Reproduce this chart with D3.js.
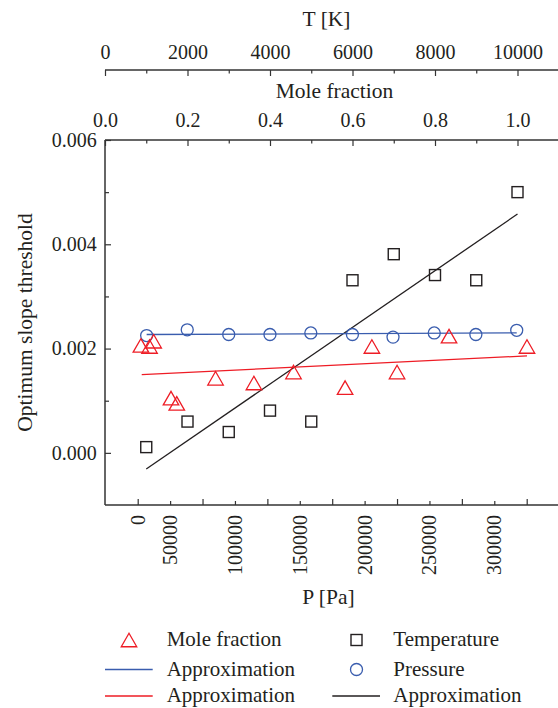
<!DOCTYPE html>
<html>
<head>
<meta charset="utf-8">
<script src="https://cdn.jsdelivr.net/npm/d3@7"></script>
<style>
  body { margin: 0; background: #fff; }
  svg { display: block; font-family: "Liberation Serif", "Times New Roman", serif; }
</style>
</head>
<body>
<svg id="chart" width="558" height="708"></svg>
<script>
// ---- Mole fraction series (top inner axis) ----
const moleFraction  = [0.087, 0.108, 0.118, 0.160, 0.174, 0.268, 0.361, 0.457, 0.582, 0.647, 0.708, 0.834, 1.023];
const moleThreshold = [0.00206, 0.00204, 0.00214, 0.00105, 0.00095, 0.00143, 0.00134, 0.00155, 0.00125, 0.00204, 0.00155, 0.00224, 0.00204];
const moleFitX = [0.089, 1.023];
const moleFitY = [0.00150, 0.00186];

// ---- Temperature series (top outer axis) ----
const temperature   = [1000, 2000, 3000, 4000, 5000, 6000, 7000, 8000, 9000, 10000];
const tempThreshold = [0.00011, 0.00060, 0.00040, 0.00081, 0.00060, 0.00331, 0.00381, 0.00341, 0.00331, 0.00500];
const tempFitX = [1000, 10000];
const tempFitY = [-0.00031, 0.00458];

// ---- Pressure series (bottom axis) ----
const pressure          = [6900, 38200, 70200, 102000, 133500, 165600, 196900, 228700, 260800, 292300];
const pressureThreshold = [0.00225, 0.00236, 0.00227, 0.00227, 0.00230, 0.00227, 0.00222, 0.00230, 0.00227, 0.00235];
const pressureFitX = [6900, 292300];
const pressureFitY = [0.00227, 0.00230];

// ---- Tick values ----
const moleTicks      = [0, 0.2, 0.4, 0.6, 0.8, 1.0];
const tempTicks      = [0, 2000, 4000, 6000, 8000, 10000];
const pressureTicks  = [0, 50000, 100000, 150000, 200000, 250000, 300000];
const thresholdTicks = [0, 0.002, 0.004, 0.006];

// ---- Legend entries ----
const legendItems = [
  { label: "Mole fraction", kind: "triangle", color: "#ee1c25", col: 0, row: 0 },
  { label: "Approximation", kind: "line",     color: "#3a5dae", col: 0, row: 1 },
  { label: "Approximation", kind: "line",     color: "#ee1c25", col: 0, row: 2 },
  { label: "Temperature",   kind: "square",   color: "#231f20", col: 1, row: 0 },
  { label: "Pressure",      kind: "circle",   color: "#3a5dae", col: 1, row: 1 },
  { label: "Approximation", kind: "line",     color: "#231f20", col: 1, row: 2 }
];

const RED = "#ee1c25", BLUE = "#3a5dae", BLACK = "#231f20", AXIS = "#333";

const svg = d3.select("#chart");
const frame = { left: 105, right: 562, top: 140, bottom: 505, tempAxisY: 70 };

const xMole = d3.scaleLinear().domain([0, 1]).range([frame.left, 517.5]);
const xTemp = d3.scaleLinear().domain([0, 10000]).range([frame.left, 517.5]);
const xP    = d3.scaleLinear().domain([0, 300000]).range([137.7, 526.7]);
const y     = d3.scaleLinear().domain([-0.001, 0.006]).range([frame.bottom, frame.top]);

// minor ticks halfway between consecutive major ticks
function midpoints(ticks) {
  return d3.pairs(ticks).map(([a, b]) => (a + b) / 2);
}

function styleAxis(g, size) {
  g.select(".domain").remove();
  g.attr("font-family", null).attr("font-size", size);
  g.selectAll(".tick line").attr("stroke", AXIS).attr("stroke-width", 1.2);
  g.selectAll(".tick text").attr("fill", BLACK);
}

// ---- Axis lines ----
const axisLines = svg.append("g").attr("stroke", AXIS).attr("stroke-width", 1.5).attr("fill", "none");
axisLines.append("line").attr("x1", frame.left).attr("x2", frame.right).attr("y1", frame.tempAxisY).attr("y2", frame.tempAxisY);
axisLines.append("line").attr("x1", frame.left).attr("x2", frame.right).attr("y1", frame.top).attr("y2", frame.top);
axisLines.append("line").attr("x1", frame.left).attr("x2", frame.right).attr("y1", frame.bottom).attr("y2", frame.bottom);
axisLines.append("line").attr("x1", frame.left).attr("x2", frame.left).attr("y1", frame.top).attr("y2", frame.bottom);

// ---- Temperature axis (outer top) ----
svg.append("g").attr("transform", `translate(0,${frame.tempAxisY})`)
  .call(d3.axisTop(xTemp).tickValues(tempTicks).tickSize(-6).tickPadding(10.7).tickFormat(d3.format("d")))
  .call(g => styleAxis(g, 20));
svg.append("g").attr("transform", `translate(0,${frame.tempAxisY})`)
  .call(d3.axisTop(xTemp).tickValues(midpoints(tempTicks)).tickSize(-3.5).tickFormat(""))
  .call(g => styleAxis(g, 20));

// ---- Mole fraction axis (inner top) ----
svg.append("g").attr("transform", `translate(0,${frame.top})`)
  .call(d3.axisTop(xMole).tickValues(moleTicks).tickSize(-6).tickPadding(13.3).tickFormat(d3.format(".1f")))
  .call(g => styleAxis(g, 20));
svg.append("g").attr("transform", `translate(0,${frame.top})`)
  .call(d3.axisTop(xMole).tickValues(midpoints(moleTicks)).tickSize(-3.5).tickFormat(""))
  .call(g => styleAxis(g, 20));

// ---- Threshold axis (left) ----
svg.append("g").attr("transform", `translate(${frame.left},0)`)
  .call(d3.axisLeft(y).tickValues(thresholdTicks).tickSize(-6).tickPadding(8.3).tickFormat(d3.format(".3f")))
  .call(g => styleAxis(g, 20));
svg.append("g").attr("transform", `translate(${frame.left},0)`)
  .call(d3.axisLeft(y).tickValues(midpoints(thresholdTicks)).tickSize(-4).tickFormat(""))
  .call(g => styleAxis(g, 20));

// ---- Pressure axis (bottom), labels rotated ----
const pMinorStep = (pressureTicks[1] - pressureTicks[0]) / 2;
svg.append("g").attr("transform", `translate(0,${frame.bottom})`)
  .call(d3.axisBottom(xP).tickValues(pressureTicks).tickSize(-6).tickFormat(""))
  .call(g => styleAxis(g, 20));
svg.append("g").attr("transform", `translate(0,${frame.bottom})`)
  .call(d3.axisBottom(xP).tickValues(midpoints(pressureTicks)).tickSize(-4).tickFormat(""))
  .call(g => styleAxis(g, 20));
// zero label sits on its tick; the others sit half a step to the left
svg.append("g").attr("font-size", 20).attr("fill", BLACK)
  .selectAll("text").data(pressureTicks).join("text")
  .attr("transform", d => `translate(${xP(d === 0 ? d : d - pMinorStep)},${frame.bottom + 10}) rotate(-90)`)
  .attr("text-anchor", "end")
  .attr("dy", "0.35em")
  .text(d => d3.format("d")(d));

// ---- Axis titles ----
const midX = (frame.left + 558) / 2;
const titles = svg.append("g").attr("font-size", 21.5).attr("fill", BLACK).attr("text-anchor", "middle");
titles.append("text").attr("x", midX - 5).attr("y", 26).text("T [K]");
titles.append("text").attr("x", midX + 3).attr("y", 97.7).text("Mole fraction");
titles.append("text").attr("x", midX - 3).attr("y", 604).text("P [Pa]");
titles.append("text")
  .attr("transform", `translate(32,${(frame.top + frame.bottom) / 2}) rotate(-90)`)
  .text("Optimum slope threshold");

// ---- Marker helpers ----
function trianglePath(cx, cy, w, h) {
  return `M${cx},${cy - h / 2}L${cx + w / 2},${cy + h / 2}L${cx - w / 2},${cy + h / 2}Z`;
}
const TRI_W = 15.5, TRI_H = 13.5, SQ = 11, CIRC_R = 6;

// ---- Fit lines ----
const fits = svg.append("g").attr("fill", "none").attr("stroke-width", 1.3);
fits.append("line")
  .attr("x1", xTemp(tempFitX[0])).attr("x2", xTemp(tempFitX[1]))
  .attr("y1", y(tempFitY[0])).attr("y2", y(tempFitY[1]))
  .attr("stroke", BLACK);
fits.append("line")
  .attr("x1", xMole(moleFitX[0])).attr("x2", xMole(moleFitX[1]))
  .attr("y1", y(moleFitY[0])).attr("y2", y(moleFitY[1]))
  .attr("stroke", RED);
fits.append("line")
  .attr("x1", xP(pressureFitX[0])).attr("x2", xP(pressureFitX[1]))
  .attr("y1", y(pressureFitY[0])).attr("y2", y(pressureFitY[1]))
  .attr("stroke", BLUE);

// ---- Points ----
svg.append("g").attr("fill", "none").attr("stroke", BLACK).attr("stroke-width", 1.4)
  .selectAll("rect").data(temperature.map((t, i) => [t, tempThreshold[i]])).join("rect")
  .attr("x", d => xTemp(d[0]) - SQ / 2).attr("y", d => y(d[1]) - SQ / 2)
  .attr("width", SQ).attr("height", SQ);

svg.append("g").attr("fill", "none").attr("stroke", BLUE).attr("stroke-width", 1.3)
  .selectAll("circle").data(pressure.map((p, i) => [p, pressureThreshold[i]])).join("circle")
  .attr("cx", d => xP(d[0])).attr("cy", d => y(d[1])).attr("r", CIRC_R);

svg.append("g").attr("fill", "none").attr("stroke", RED).attr("stroke-width", 1.3)
  .selectAll("path").data(moleFraction.map((m, i) => [m, moleThreshold[i]])).join("path")
  .attr("d", d => trianglePath(xMole(d[0]), y(d[1]), TRI_W, TRI_H));

// ---- Legend ----
const legend = svg.append("g").attr("font-size", 21).attr("fill", BLACK);
const colSymbolX = [129, 356.5], colLineX = [[105, 152.7], [332.3, 380]], colTextX = [166.7, 393.3];
const rowY = [640, 669.5, 696];
legendItems.forEach(item => {
  const cy = rowY[item.row], cx = colSymbolX[item.col];
  if (item.kind === "triangle") {
    legend.append("path").attr("d", trianglePath(cx, cy, TRI_W, TRI_H))
      .attr("fill", "none").attr("stroke", item.color).attr("stroke-width", 1.3);
  } else if (item.kind === "square") {
    legend.append("rect").attr("x", cx - SQ / 2).attr("y", cy - SQ / 2).attr("width", SQ).attr("height", SQ)
      .attr("fill", "none").attr("stroke", item.color).attr("stroke-width", 1.4);
  } else if (item.kind === "circle") {
    legend.append("circle").attr("cx", cx).attr("cy", cy).attr("r", CIRC_R)
      .attr("fill", "none").attr("stroke", item.color).attr("stroke-width", 1.3);
  } else {
    const [lx1, lx2] = colLineX[item.col];
    legend.append("line").attr("x1", lx1).attr("x2", lx2).attr("y1", cy).attr("y2", cy)
      .attr("stroke", item.color).attr("stroke-width", 1.3);
  }
  legend.append("text").attr("x", colTextX[item.col]).attr("y", cy).attr("dy", "0.3em").text(item.label);
});
</script>
</body>
</html>
